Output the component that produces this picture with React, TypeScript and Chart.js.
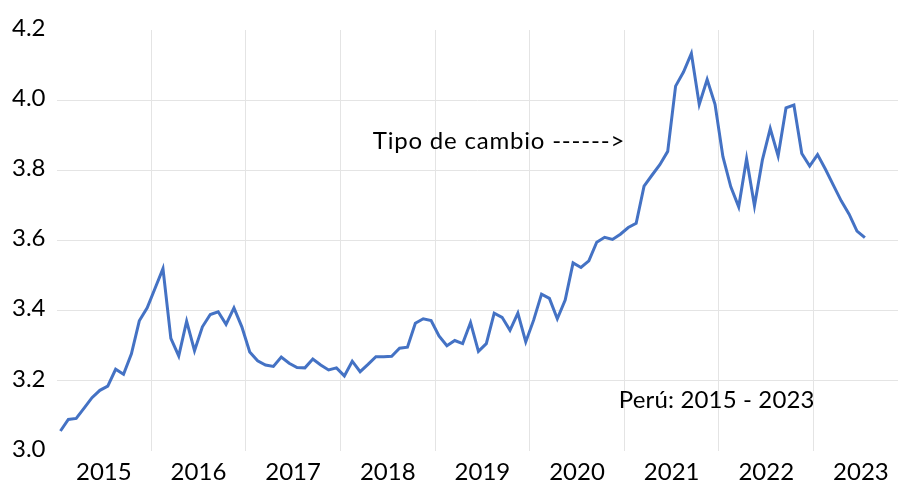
import React, { useEffect, useRef } from "react";
import { Chart, registerables } from "chart.js";

Chart.register(...registerables);

// Year labels (one per 12 months, starting Jan 2015)
const years = ["2015", "2016", "2017", "2018", "2019", "2020", "2021", "2022", "2023"];

// Monthly exchange rate (PEN per USD), Jan 2015 – Jul 2023
const tipoDeCambio = [
  3.057, 3.09, 3.093, 3.122, 3.152, 3.173, 3.185, 3.233, 3.219, 3.277, 3.371, 3.408,
  3.464, 3.52, 3.321, 3.271, 3.37, 3.286, 3.354, 3.389, 3.397, 3.361, 3.408, 3.354,
  3.282, 3.257, 3.245, 3.241, 3.268, 3.25, 3.238, 3.237, 3.262, 3.245, 3.231, 3.237,
  3.214, 3.256, 3.226, 3.247, 3.269, 3.269, 3.27, 3.293, 3.296, 3.364, 3.377, 3.372,
  3.328, 3.3, 3.315, 3.306, 3.366, 3.284, 3.306, 3.393, 3.381, 3.344, 3.393, 3.311,
  3.373, 3.447, 3.435, 3.377, 3.43, 3.536, 3.523, 3.542, 3.595, 3.609, 3.603, 3.618,
  3.637, 3.649, 3.755, 3.786, 3.816, 3.854, 4.04, 4.08, 4.133, 3.988, 4.059, 3.988,
  3.839, 3.753, 3.696, 3.833, 3.699, 3.829, 3.919, 3.841, 3.978, 3.986, 3.848, 3.812,
  3.845, 3.803, 3.758, 3.713, 3.675, 3.627, 3.608,
];

// Annotation texts
const annotationTexts = ["Tipo de cambio ------>", "Perú: 2015 - 2023"];

const FONT = "Lato, 'Open Sans', sans-serif";
const LINE_COLOR = "#4472C4";
const GRID_COLOR = "#e4e4e4";

export default function App() {
  const canvasRef = useRef<HTMLCanvasElement | null>(null);

  useEffect(() => {
    const canvas = canvasRef.current;
    if (!canvas) return;

    // annotation anchors in data coordinates (month index, value) and letter spacing
    const annotationAnchors = [
      { x: 40.1, y: 3.86, spacing: "0.8px" },
      { x: 71.3, y: 3.122, spacing: "0.15px" },
    ];

    const annotationPlugin = {
      id: "textAnnotations",
      afterDatasetsDraw(chart: any) {
        const { ctx, scales } = chart;
        ctx.save();
        ctx.font = `24px ${FONT}`;
        ctx.fillStyle = "#000";
        ctx.textAlign = "left";
        ctx.textBaseline = "alphabetic";
        annotationTexts.forEach((t, i) => {
          const a = annotationAnchors[i];
          (ctx as any).letterSpacing = a.spacing;
          ctx.fillText(t, scales.x.getPixelForValue(a.x), scales.y.getPixelForValue(a.y));
        });
        (ctx as any).letterSpacing = "0px";
        ctx.restore();
      },
    };

    const chart = new Chart(canvas, {
      type: "line",
      data: {
        datasets: [
          {
            label: "Tipo de cambio",
            data: tipoDeCambio.map((v, i) => ({ x: i + 0.5, y: v })),
            borderColor: LINE_COLOR,
            borderWidth: 3,
            pointRadius: 0,
            tension: 0,
            fill: false,
          },
        ],
      },
      options: {
        animation: false,
        responsive: false,
        events: [],
        layout: { padding: { left: 12, top: 30, right: 0, bottom: 0 } },
        plugins: {
          legend: { display: false },
          tooltip: { enabled: false },
          title: { display: false },
        },
        scales: {
          x: {
            type: "linear",
            min: 0,
            max: 106.7,
            afterBuildTicks: (axis: any) => {
              const t: any[] = [];
              for (let v = 6; v <= years.length * 12 - 6; v += 6) t.push({ value: v });
              axis.ticks = t;
            },
            afterFit: (axis: any) => {
              axis.height = 34;
            },
            border: { display: false },
            grid: {
              drawTicks: false,
              lineWidth: 1,
              color: (ctx: any) =>
                ctx.tick && ctx.tick.value % 12 === 0 ? GRID_COLOR : "rgba(0,0,0,0)",
            },
            ticks: {
              autoSkip: false,
              maxRotation: 0,
              minRotation: 0,
              padding: 7,
              color: "#000",
              font: { family: FONT, size: 24 },
              callback: (value: any) =>
                value % 12 === 6 ? years[(value - 6) / 12] : "",
            },
          },
          y: {
            min: 3.0,
            max: 4.2,
            afterFit: (axis: any) => {
              axis.width = 44.5;
            },
            border: { display: false },
            grid: {
              drawTicks: false,
              lineWidth: 1,
              color: (ctx: any) => {
                const v = ctx.tick ? ctx.tick.value : 0;
                return Math.abs(v - 3.0) < 1e-6 || Math.abs(v - 4.2) < 1e-6
                  ? "rgba(0,0,0,0)"
                  : GRID_COLOR;
              },
            },
            ticks: {
              stepSize: 0.2,
              crossAlign: "far",
              padding: 0,
              labelOffset: -2,
              color: "#000",
              font: { family: FONT, size: 24 },
              callback: (value: any) => Number(value).toFixed(1),
            },
          },
        },
      },
      plugins: [annotationPlugin],
    } as any);

    return () => chart.destroy();
  }, []);

  return (
    <div style={{ position: "absolute", left: 0, top: 0, width: 898, height: 485, background: "#fff" }}>
      <canvas ref={canvasRef} width={898} height={485} style={{ display: "block" }} />
    </div>
  );
}
